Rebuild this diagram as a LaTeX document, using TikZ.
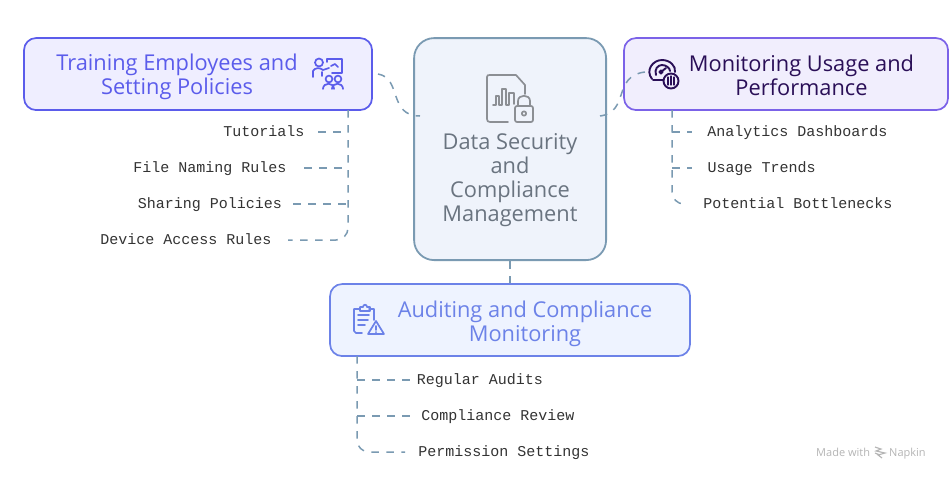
\documentclass[tikz,border=0pt]{standalone}
\usepackage{fontspec}
\setmainfont{Open Sans}
\newfontfamily\leaffont{Liberation Mono}
\usetikzlibrary{calc}
\definecolor{trainC}{HTML}{5B5CEB}
\definecolor{trainF}{HTML}{EFEEFF}
\definecolor{monC}{HTML}{7B62E8}
\definecolor{monF}{HTML}{F1EEFD}
\definecolor{monT}{HTML}{2A0F57}
\definecolor{audC}{HTML}{6C82E8}
\definecolor{audF}{HTML}{EEF3FF}
\definecolor{cenC}{HTML}{7A9AB2}
\definecolor{cenF}{HTML}{EFF3FB}
\definecolor{cenT}{HTML}{6A7480}
\definecolor{iconG}{HTML}{8C8F94}
\definecolor{wm}{HTML}{B5B5B5}
\tikzset{
  x=1pt,y=-1pt,
  card/.style={draw=#1,line width=1.7pt,rounded corners=12pt},
  title/.style={align=center,font=\fontsize{21.8}{24}\selectfont,inner sep=0pt},
  leaf/.style={font=\leaffont\fontsize{15}{16}\selectfont,text=black!80,inner sep=0pt,anchor=base},
  conn/.style={draw=cenC,line width=1.5pt,dash pattern=on 7.5pt off 7.5pt},
  ico/.style={line width=1.7pt,line cap=round,line join=round,fill=none}
}
\begin{document}
\begin{tikzpicture}
\useasboundingbox (0,0) rectangle (949,480);
\fill[white] (0,0) rectangle (949,480);
\node[card=trainC,fill=trainF,minimum width=348pt,minimum height=72pt,anchor=north west,inner sep=0pt] (train) at (23.2,37.2) {};
\node[card=monC,fill=monF,minimum width=324pt,minimum height=72pt,anchor=north west,inner sep=0pt] (mon) at (623.2,37.2) {};
\node[card=audC,fill=audF,minimum width=360pt,minimum height=72pt,anchor=north west,inner sep=0pt] (aud) at (329.2,283.2) {};
\node[draw=cenC,fill=cenF,line width=1.8pt,rounded corners=20pt,minimum width=192pt,minimum height=222pt,anchor=north west,inner sep=0pt] (cen) at (413.2,37.2) {};
% titles
\node[title,text=trainC] (trainT) at (177,77) {Training Employees and\\Setting Policies};
\node[title,text=monT] (monT) at (801.5,75) {Monitoring Usage and\\Performance};
\node[title,text=audC] (audT) at (525,324) {Auditing and Compliance\\Monitoring};
\node[title,text=cenT,align=center] (cenT) at (510,180) {Data Security\\and\\Compliance\\Management};
% leaves
\node[leaf] (l1) at (264,136) {Tutorials};
\node[leaf] (l2) at (210,172) {File Naming Rules};
\node[leaf] (l3) at (210,208) {Sharing Policies};
\node[leaf] (l4) at (186,244) {Device Access Rules};
\node[leaf] (r1) at (797.5,136) {Analytics Dashboards};
\node[leaf] (r2) at (761.5,172) {Usage Trends};
\node[leaf] (r3) at (798,208) {Potential Bottlenecks};
\node[leaf] (b1) at (480,384) {Regular Audits};
\node[leaf] (b2) at (498,420) {Compliance Review};
\node[leaf] (b3) at (504,456) {Permission Settings};
% connectors
\coordinate (tl) at (348,110);
\coordinate (tr) at (672,110);
\coordinate (ta) at (357,356);
\draw[conn] (510,261) -- (510,283);
\draw[conn] (378,74) .. controls (402,78) and (388,116) .. (420,116);
\draw[conn] (600,116) .. controls (630,112) and (612,76) .. (645,72);
% training branches
\draw[conn,rounded corners=12pt] (tl) -- (348,240) -- (288,240);
\draw[conn] (318,132) -- (348,132);
\draw[conn] (304,168) -- (348,168);
\draw[conn] (293,204) -- (348,204);
% monitoring branches
\draw[conn,rounded corners=12pt] (tr) -- (672,204) -- (686,204);
\draw[conn] (672,132) -- (692,132);
\draw[conn] (672,168) -- (692,168);
% audit branches
\draw[conn,rounded corners=12pt] (ta) -- (357,452) -- (405,452);
\draw[conn] (357,380) -- (410,380);
\draw[conn] (357,416) -- (410,416);
% centre icon
\begin{scope}[ico,draw=iconG]
\draw (508,122) -- (490,122) .. controls (488,122) and (487,121) .. (487,119) -- (487,77) .. controls (487,75) and (488,75) .. (490,75) -- (516,75) -- (525,85) -- (525,94);
\draw (493,105) -- (496,105) -- (496,96) -- (499,96) -- (499,105) -- (502,105) -- (502,89) -- (506,89) -- (506,105) -- (509,105) -- (509,93) -- (514,93) -- (514,104);
\draw[rounded corners=2pt] (515,106) rectangle (533,122);
\draw (518,106) -- (518,101) .. controls (518,94) and (530,94) .. (530,101) -- (530,106);
\draw (524,113.5) circle[radius=2.2pt];
\end{scope}
% training icon
\begin{scope}[ico,draw=trainC]
\draw (319,62.5) circle[radius=4pt];
\draw (313,77) -- (313,71) .. controls (314,68) and (320,67) .. (323,70) -- (329,68) (322,72) -- (322,76);
\draw (327,62) -- (327,59) -- (342,59) -- (342,73) -- (332,73);
\draw (331,66) -- (335,64) -- (338,67);
\draw (329,79) circle[radius=3.4pt] (338,79) circle[radius=3.4pt];
\draw (323,89) .. controls (323,82) and (334,82) .. (334,89);
\draw (332,89) .. controls (332,82) and (343,82) .. (343,89);
\end{scope}
% monitoring icon
\begin{scope}[ico,draw=monT,line width=1.9pt]
\draw (652,79) .. controls (645,70) and (653,60) .. (662,60) .. controls (670,60) and (676,66) .. (675,72);
\draw (656,75) .. controls (654,69) and (658,65) .. (662,65) .. controls (666,65) and (670,68) .. (670,71);
\draw (653,80) -- (663,80);
\draw (661,72) -- (666,68);
\draw (661,72) circle[radius=1.6pt];
\draw (671,81) circle[radius=7.5pt];
\draw[line width=1.3pt] (668,77) -- (668,85) (671,76) -- (671,85) (674,77) -- (674,85);
\end{scope}
% audit icon
\begin{scope}[ico,draw=audC]
\draw (362,333) -- (356,333) -- (354,331) -- (354,309) -- (360,309) (369,309) -- (374,309) -- (374,320);
\draw (360,311) -- (360,307) -- (363,307) .. controls (363,304) and (367,304) .. (367,307) -- (370,307) -- (370,311) -- cycle;
\draw (358,315) -- (369,315) (358,320) -- (368,320) (358,325) -- (365,325);
\draw (376,321) -- (384,334) -- (368,334) -- cycle;
\draw (376,326) -- (376,330) (376,332) -- (376,332.2);
\end{scope}
% watermark
\node[font=\fontsize{11}{13}\selectfont,text=wm,inner sep=0pt,anchor=base west] (wm1) at (816,456) {Made with};
\node[font=\fontsize{11}{13}\selectfont,text=wm,inner sep=0pt,anchor=base west] (wm2) at (889,456) {Napkin};
\draw[wm,line width=1.1pt] (875,447) -- (881,449) -- (876,451) -- (885,453) -- (878,455) -- (882,458) (875,453) -- (880,455);
\end{tikzpicture}
\end{document}
